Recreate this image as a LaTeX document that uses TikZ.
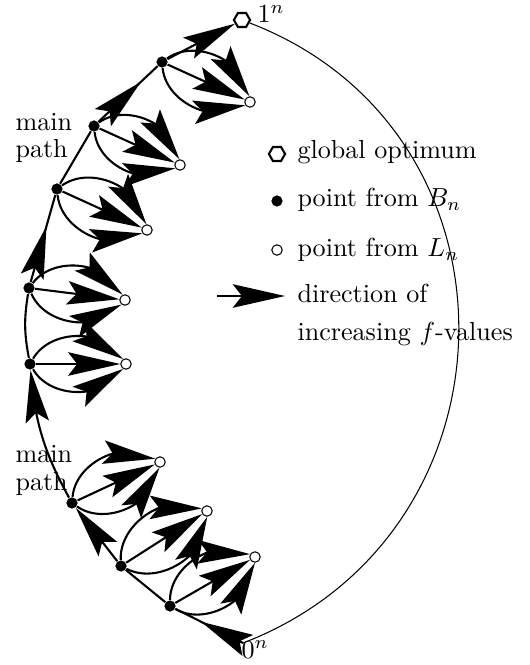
\documentclass[tikz,border=0pt]{standalone}
\usetikzlibrary{arrows.meta,bending,shapes.geometric,decorations.markings}

\tikzset{
    bigtip/.tip={Stealth[length=20pt,width=9pt,inset=3.5pt]},
    bpoint/.style={circle, fill=black, inner sep=0pt, minimum size=4.3pt},
    lpoint/.style={circle, draw, fill=white, thin, inner sep=0pt, minimum size=4pt},
    optpoint/.style={regular polygon, regular polygon sides=6, draw, thick,
        fill=white, inner sep=0pt, minimum size=6.2pt},
    path edge/.style={thick},
    tip edge/.style={thick, -{bigtip}},
    mid arrow/.style={postaction={decorate},
        decoration={markings, mark=at position #1 with {\arrow{bigtip}}}},
    legend text/.style={anchor=base west, inner sep=0pt},
}

\begin{document}
\begin{tikzpicture}[x=0.3832pt, y=-0.3832pt]
    \useasboundingbox (0,0) rectangle (530,665);

    % outer arc from the optimum down to 0^n
    \node[optpoint] (one) at (242,20) {};
    \coordinate (zero) at (243,643);
    \draw[thin] (one) to[out=-21, in=21, looseness=1.25] (zero);

    % main path points (B) and their side points (L)
    \foreach \i/\bx/\by/\lx/\ly in {
        1/170/606/255/557,
        2/121/566/207/511,
        3/72/503/160/462,
        4/30/364/126/364,
        5/29/288/125/300,
        6/57/189/147/230,
        7/94/126/180/165,
        8/162/62/250/102
    } {
        \node[bpoint] (b\i) at (\bx,\by) {};
        \node[lpoint] (l\i) at (\lx,\ly) {};
        \draw[tip edge] (b\i) to[bend left=60] (l\i);
        \draw[tip edge] (b\i) -- (l\i);
        \draw[tip edge] (b\i) to[bend right=60] (l\i);
    }

    \draw[path edge, mid arrow=0.62] (zero) -- (b1);
    \draw[path edge] (b1) -- (b2);
    \draw[tip edge] (b2) -- (b3);
    \draw[tip edge] (b3) to[bend left=12] (b4);
    \draw[path edge] (b4) to[bend left=10] (b5);
    \draw[path edge, mid arrow=0.64] (b5) -- (b6);
    \draw[path edge] (b6) -- (b7);
    \draw[path edge, mid arrow=0.72] (b7) -- (b8);
    \draw[tip edge] (b8) -- (one);

    \node[legend text] (onelabel) at (257,23) {$1^n$};
    \node[legend text] (zerolabel) at (241,658) {$0^n$};

    \node[legend text, align=left] (mainup) at (15,158) {main\\[-1.3pt]path};
    \node[legend text, align=left] (maindown) at (15,490) {main\\[-1.3pt]path};

    % legend
    \node[optpoint] (legopt) at (277,154) {};
    \node[legend text] (opttext) at (297,159) {global optimum};
    \node[bpoint] (legb) at (277,201) {};
    \node[legend text] (btext) at (297,207) {point from $B_n$};
    \node[lpoint] (legl) at (277,250) {};
    \node[legend text] (ltext) at (297,257) {point from $L_n$};
    \coordinate (legstart) at (217,296);
    \coordinate (legend) at (285,296);
    \draw[tip edge] (legstart) -- (legend);
    \node[legend text] (dirtext) at (297,302) {direction of};
    \node[legend text] (inctext) at (297,340) {increasing $f$-values};
\end{tikzpicture}
\end{document}
